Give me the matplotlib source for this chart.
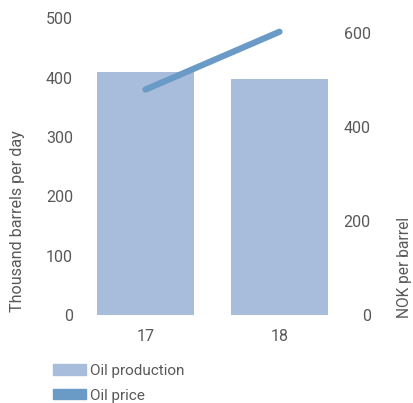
import matplotlib.pyplot as plt
from matplotlib.patches import Patch

years = ['17', '18']
production = [409, 397]   # thousand barrels per day
price = [480, 603]        # NOK per barrel

bar_color = '#a7bddb'
line_color = '#6a9ac6'
text_color = '#595959'

plt.rcParams['font.family'] = ['Roboto', 'DejaVu Sans']

fig = plt.figure(figsize=(4.13, 4.03), dpi=100)
ax = fig.add_axes([0.19, 0.218, 0.649, 0.737])
ax2 = ax.twinx()

x = range(len(years))
ax.bar(x, production, width=0.72, color=bar_color, zorder=1)
ax2.plot(x, price, color=line_color, lw=4.5, solid_capstyle='round', zorder=2)

ax.set_xlim(-0.5, 1.5)
ax.set_ylim(0, 500)
ax2.set_ylim(0, 632)
ax.set_yticks(range(0, 501, 100))
ax2.set_yticks(range(0, 601, 200))
ax.set_xticks(list(x))
ax.set_xticklabels(years)

for a in (ax, ax2):
    for s in a.spines.values():
        s.set_visible(False)
    a.tick_params(length=0, labelsize=11.5, colors=text_color)
ax.tick_params(axis='y', pad=4)
ax.tick_params(axis='x', pad=10)
ax2.tick_params(axis='y', pad=17.5)
for t in ax2.get_yticklabels():
    t.set_ha('right')

# both axis titles start near the bottom of the plot
ax.set_ylabel('Thousand barrels per day', fontsize=11.6, color=text_color)
ax.yaxis.set_label_coords(-0.229, 0.01)
ax.yaxis.label.set_ha('left')
ax.yaxis.label.set_va('center')

ax2.set_ylabel('NOK per barrel', fontsize=11.2, color=text_color)
ax2.yaxis.set_label_coords(1.215, -0.01)
ax2.yaxis.label.set_ha('left')
ax2.yaxis.label.set_va('center')

handles = [Patch(color=bar_color, label='Oil production'),
           Patch(color=line_color, label='Oil price')]
fig.legend(handles=handles, loc='upper left', bbox_to_anchor=(0.128, 0.097),
           frameon=False, fontsize=11, labelcolor=text_color,
           handlelength=2.15, handleheight=0.65, handletextpad=0.3,
           labelspacing=0.7, borderaxespad=0, borderpad=0)

fig.savefig('out.png', dpi=100)
